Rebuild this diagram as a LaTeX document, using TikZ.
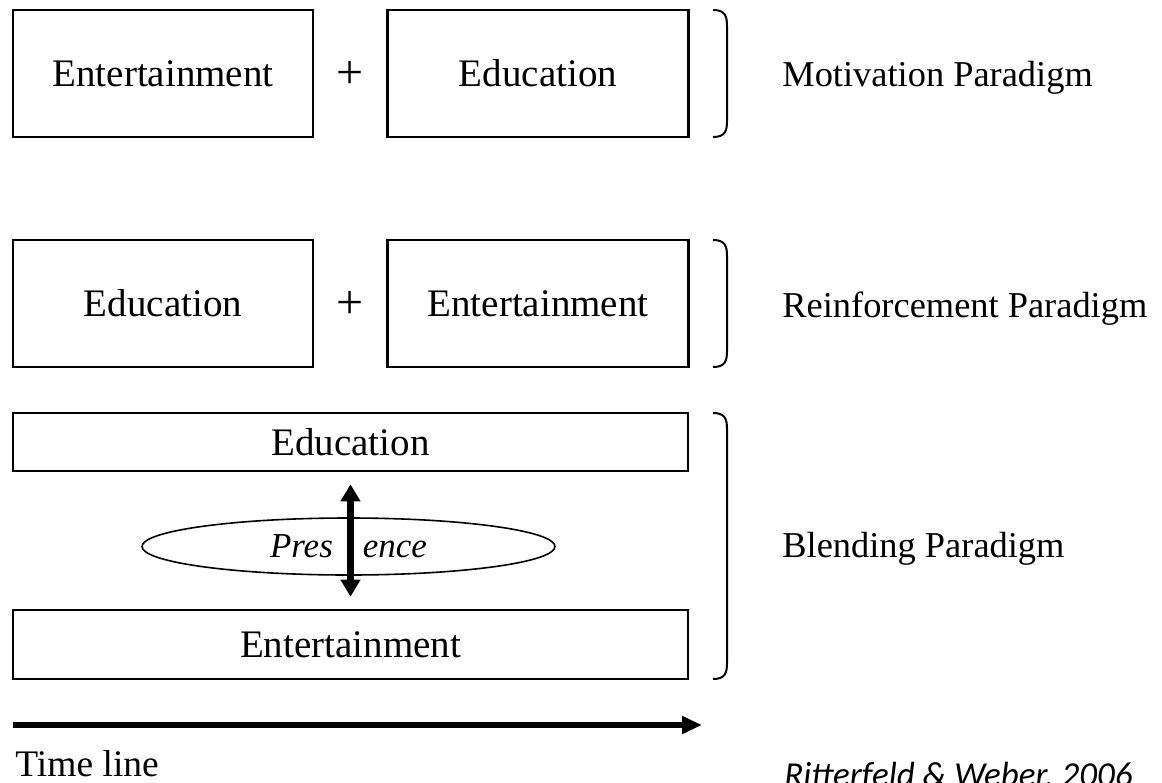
\documentclass[tikz,border=0pt]{standalone}
\usepackage{fontspec}
\setmainfont{Liberation Serif}
\newfontfamily\refont{Carlito}
\usetikzlibrary{arrows.meta,shapes.geometric}
\tikzset{
  boxtext/.style={font=\fontsize{19.5}{23}\selectfont},
  plustext/.style={font=\fontsize{24}{28}\selectfont, inner sep=0pt},
  labeltext/.style={font=\fontsize{18.2}{22}\selectfont, inner sep=0pt},
  pbox/.style={draw, line width=1.3pt, boxtext, inner sep=0pt},
  brk/.style={line width=1pt},
  dblarrow/.style={line width=3.5pt, {Triangle[length=8.5pt,width=9.5pt]}-{Triangle[length=8.5pt,width=9.5pt]}},
  timearrow/.style={line width=3pt, -{Triangle[length=10pt,width=8.5pt]}},
}
\begin{document}
\begin{tikzpicture}[x=0.5pt,y=-0.5pt]
\useasboundingbox (0,0) rectangle (1162,782);
% Row 1
\node[pbox, minimum width=150pt, minimum height=63.5pt] (m1) at (163,73.5) {Entertainment};
\node[pbox, minimum width=150.5pt, minimum height=63.5pt] (m2) at (538,73.5) {Education};
\node[plustext] (plus1) at (350,75) {+};
\coordinate (b1t) at (713,10);
\coordinate (b1b) at (713,137);
\draw[brk] (b1t) .. controls (725,10) and (727,16) .. (727,26) -- (727,121) .. controls (727,131) and (725,137) .. (b1b);
\node[labeltext, anchor=base west] (lab1) at (782,86) {Motivation Paradigm};
% Row 2
\node[pbox, minimum width=150pt, minimum height=63.5pt] (r1) at (163,303.5) {Education};
\node[pbox, minimum width=150.5pt, minimum height=63.5pt] (r2) at (538,303.5) {Entertainment};
\node[plustext] (plus2) at (350,305) {+};
\coordinate (b2t) at (713,240);
\coordinate (b2b) at (713,367);
\draw[brk] (b2t) .. controls (725,240) and (727,246) .. (727,256) -- (727,351) .. controls (727,361) and (725,367) .. (b2b);
\node[labeltext, anchor=base west] (lab2) at (782,317) {Reinforcement Paradigm};
% Row 3
\node[pbox, minimum width=337.5pt, minimum height=29pt] (edu3) at (350.5,442) {Education};
\node[pbox, minimum width=337.5pt, minimum height=34.5pt] (ent3) at (350.5,644.5) {Entertainment};
\node[draw, ellipse, line width=0.8pt, minimum width=206.5pt, minimum height=28.5pt, inner sep=0pt,
      font=\fontsize{17.5}{20}\selectfont\itshape] (pres) at (348.5,546.5) {Pres\hspace{15pt}ence};
\draw[dblarrow] ([yshift=-6pt]edu3.south) -- ([yshift=6pt]ent3.north);
\coordinate (b3t) at (713,413);
\coordinate (b3b) at (713,679);
\draw[brk] (b3t) .. controls (725,413) and (727,419) .. (727,429) -- (727,663) .. controls (727,673) and (725,679) .. (b3b);
\node[labeltext, anchor=base west] (lab3) at (782,557) {Blending Paradigm};
% Time line
\coordinate (tl0) at (13,725);
\coordinate (tl1) at (702,725);
\draw[timearrow] (tl0) -- (tl1);
\node[inner sep=0pt, anchor=base west, font=\fontsize{18.75}{22}\selectfont] (tl) at (15,776) {Time line};
\node[inner sep=0pt, anchor=base east, font=\fontsize{17.5}{20}\selectfont\refont\itshape] (ref) at (1133,786) {Ritterfeld \& Weber, 2006};
\end{tikzpicture}
\end{document}
